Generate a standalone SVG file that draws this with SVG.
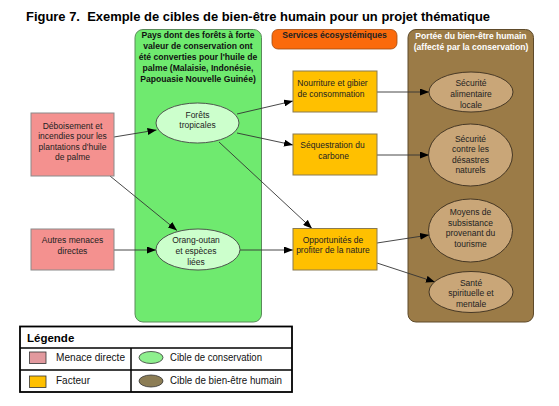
<svg xmlns="http://www.w3.org/2000/svg" width="559" height="406" viewBox="0 0 559 406">
<defs>
<marker id="arr" markerWidth="9" markerHeight="7" refX="9" refY="3.5" orient="auto" markerUnits="userSpaceOnUse">
<path d="M0,0 L9,3.5 L0,7 Z" fill="#000"/>
</marker>
<style>
.t{font-family:"Liberation Sans",Arial,sans-serif;font-size:8.5px;fill:#222;text-anchor:middle}
.tb{font-family:"Liberation Sans",Arial,sans-serif;font-size:8.6px;font-weight:bold;text-anchor:middle}
.threat{fill:#F4918F;stroke:#8a8a8a;stroke-width:1}
.factor{fill:#FFC000;stroke:#8a7a50;stroke-width:1}
.cons{fill:#CCFFCC;stroke:#444;stroke-width:0.9}
.hw{fill:#C9A678;stroke:#3a2e1e;stroke-width:0.9}
.conn line{stroke:#333;stroke-width:0.9;marker-end:url(#arr)}
.lg{font-family:"Liberation Sans",Arial,sans-serif;font-size:10.5px;fill:#111}
</style>
</defs>
<rect width="559" height="406" fill="#fff"/>
<text x="26" y="21" font-family="'Liberation Sans',Arial,sans-serif" font-size="13.5" font-weight="bold" fill="#000" textLength="464" lengthAdjust="spacingAndGlyphs" xml:space="preserve">Figure 7.  Exemple de cibles de bien-être humain pour un projet thématique</text>

<g id="panel-conservation">
<rect x="135" y="29.5" width="126.5" height="292.5" rx="8" fill="#6FEA6F" stroke="#5a8a5a" stroke-width="1"/>
<text class="tb" fill="#111"><tspan x="198" y="37.5">Pays dont des forêts à forte</tspan><tspan x="198" y="48.5">valeur de conservation ont</tspan><tspan x="198" y="59.5">été converties pour l'huile de</tspan><tspan x="198" y="70.5">palme (Malaisie, Indonésie,</tspan><tspan x="198" y="81.5">Papouasie Nouvelle Guinée)</tspan></text>
</g>
<g id="panel-services">
<rect x="272" y="29.5" width="125" height="19.5" rx="6" fill="#FB6A0C" stroke="#a04a10" stroke-width="0.8"/>
<text class="tb" x="334.5" y="38" fill="#222">Services écosystémiques</text>
</g>
<g id="panel-wellbeing">
<rect x="408" y="29.5" width="125.5" height="292.5" rx="8" fill="#9B7B47" stroke="#5e4a2a" stroke-width="1"/>
<text class="tb" fill="#fff"><tspan x="471" y="38.5">Portée du bien-être humain</tspan><tspan x="471" y="49.5">(affecté par la conservation)</tspan></text>
</g>

<g class="conn" id="connectors">
<line x1="114" y1="137" x2="156.5" y2="130"/>
<line x1="110" y1="176" x2="177" y2="230.5"/>
<line x1="114" y1="250" x2="156" y2="250"/>
<line x1="237" y1="114" x2="293" y2="101"/>
<line x1="237" y1="133" x2="293" y2="145"/>
<line x1="219" y1="142" x2="312" y2="228.5"/>
<line x1="240" y1="250" x2="293" y2="250"/>
<line x1="377" y1="92" x2="429" y2="92"/>
<line x1="377" y1="155" x2="429" y2="155"/>
<line x1="377" y1="243" x2="429" y2="235"/>
<line x1="377" y1="263" x2="435" y2="282"/>
</g>

<g id="threat-deboisement">
<rect class="threat" x="31" y="113" width="83" height="63"/>
<text class="t"><tspan x="72.5" y="128.5">Déboisement et</tspan><tspan x="72.5" y="139">incendies pour les</tspan><tspan x="72.5" y="149.5">plantations d'huile</tspan><tspan x="72.5" y="160">de palme</tspan></text>
</g>
<g id="threat-autres">
<rect class="threat" x="31" y="229" width="83" height="41"/>
<text class="t"><tspan x="72.5" y="243">Autres menaces</tspan><tspan x="72.5" y="253.5">directes</tspan></text>
</g>

<g id="target-forets">
<ellipse class="cons" cx="197.5" cy="123" rx="41.5" ry="20"/>
<text class="t"><tspan x="197.5" y="118">Forêts</tspan><tspan x="197.5" y="128">tropicales</tspan></text>
</g>
<g id="target-orang">
<ellipse class="cons" cx="198" cy="249.5" rx="42" ry="20.5"/>
<text class="t"><tspan x="196" y="243">Orang-outan</tspan><tspan x="196" y="254">et espèces</tspan><tspan x="196" y="264.5">liées</tspan></text>
</g>

<g id="factor-nourriture">
<rect class="factor" x="293" y="71" width="84" height="41"/>
<text class="t"><tspan x="332.5" y="86">Nourriture et gibier</tspan><tspan x="331" y="96.5">de consommation</tspan></text>
</g>
<g id="factor-sequestration">
<rect class="factor" x="293" y="134" width="84" height="41"/>
<text class="t"><tspan x="332.5" y="148">Séquestration du</tspan><tspan x="333.5" y="159">carbone</tspan></text>
</g>
<g id="factor-opportunites">
<rect class="factor" x="293" y="228.5" width="84" height="41.5"/>
<text class="t"><tspan x="333" y="242.5">Opportunités de</tspan><tspan x="333" y="253">profiter de la nature</tspan></text>
</g>

<g id="hw-alimentaire">
<ellipse class="hw" cx="471" cy="92" rx="42" ry="20"/>
<text class="t"><tspan x="471" y="85.5">Sécurité</tspan><tspan x="471" y="96.5">alimentaire</tspan><tspan x="471" y="107.5">locale</tspan></text>
</g>
<g id="hw-desastres">
<ellipse class="hw" cx="470.5" cy="155" rx="42" ry="31"/>
<text class="t"><tspan x="470.5" y="141.5">Sécurité</tspan><tspan x="470.5" y="152">contre les</tspan><tspan x="470.5" y="162.5">désastres</tspan><tspan x="470.5" y="173">naturels</tspan></text>
</g>
<g id="hw-tourisme">
<ellipse class="hw" cx="470.5" cy="230.5" rx="42" ry="31.5"/>
<text class="t"><tspan x="470.5" y="215">Moyens de</tspan><tspan x="470.5" y="225.5">subsistance</tspan><tspan x="470.5" y="236">provenant du</tspan><tspan x="470.5" y="246.5">tourisme</tspan></text>
</g>
<g id="hw-sante">
<ellipse class="hw" cx="471" cy="292" rx="42" ry="20.5"/>
<text class="t"><tspan x="471" y="285.5">Santé</tspan><tspan x="471" y="296">spirituelle et</tspan><tspan x="471" y="306.5">mentale</tspan></text>
</g>

<g id="legend">
<rect x="20" y="326.5" width="272" height="65.5" fill="#fff" stroke="#000" stroke-width="1.8"/>
<line x1="20" y1="348" x2="292" y2="348" stroke="#000" stroke-width="1.5"/>
<line x1="20" y1="370" x2="292" y2="370" stroke="#000" stroke-width="1.5"/>
<line x1="131" y1="348" x2="131" y2="392" stroke="#000" stroke-width="1.5"/>
<text x="27" y="341.5" font-family="'Liberation Sans',Arial,sans-serif" font-size="11.5" font-weight="bold" fill="#000">Légende</text>
<rect x="29.5" y="352" width="16.5" height="11.5" fill="#E2999E" stroke="#333" stroke-width="0.8"/>
<text class="lg" x="56" y="361" textLength="69" lengthAdjust="spacingAndGlyphs">Menace directe</text>
<ellipse cx="151" cy="357.5" rx="12" ry="6" fill="#8EF08E" stroke="#333" stroke-width="0.8"/>
<text class="lg" x="170" y="361" textLength="92" lengthAdjust="spacingAndGlyphs">Cible de conservation</text>
<rect x="29.5" y="376" width="16.5" height="11.5" fill="#FFC000" stroke="#333" stroke-width="0.8"/>
<text class="lg" x="56" y="383.5" textLength="34" lengthAdjust="spacingAndGlyphs">Facteur</text>
<ellipse cx="151" cy="381" rx="12" ry="6" fill="#8C7D55" stroke="#333" stroke-width="0.8"/>
<text class="lg" x="170" y="383.5" textLength="112" lengthAdjust="spacingAndGlyphs">Cible de bien-être humain</text>
</g>
</svg>
